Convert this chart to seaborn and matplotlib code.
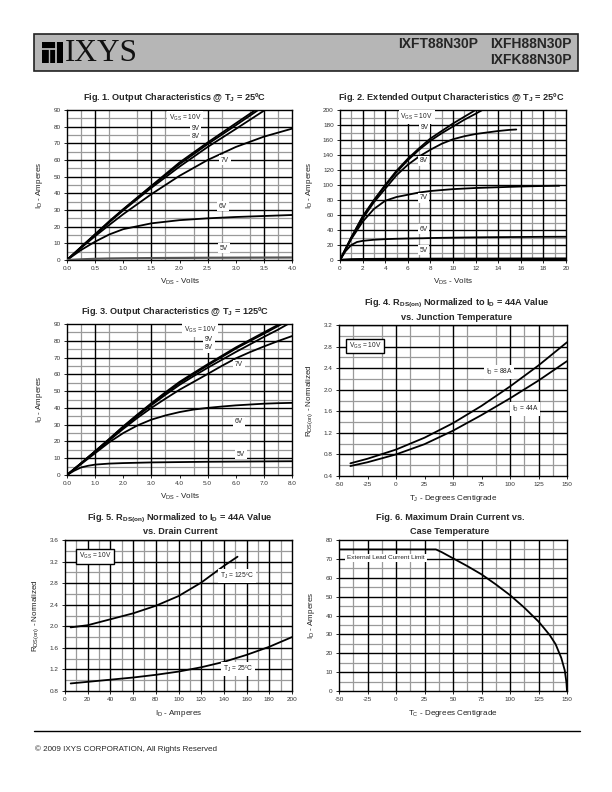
import numpy as np
import pandas as pd
import matplotlib
matplotlib.use("Agg")
import matplotlib.pyplot as plt
import seaborn as sns
from matplotlib.patches import Rectangle

# ---------------- data ----------------
# Fig 1: output characteristics @ 25C (VDS volts, ID amps)
f1_x_10 = [0, 0.25, 0.5, 0.75, 1.0, 1.5, 2.0, 2.5, 3.0, 3.35]
f1_y_10 = [0, 7.8, 15.5, 23.2, 30.5, 44.5, 58.5, 70.5, 82.0, 90.0]
f1_x_9 = [0, 0.25, 0.5, 0.75, 1.0, 1.5, 2.0, 2.5, 3.0, 3.4]
f1_y_9 = [0, 7.7, 15.3, 23.0, 30.3, 44.2, 57.5, 69.5, 80.8, 90.0]
f1_x_8 = [0, 0.25, 0.5, 0.75, 1.0, 1.5, 2.0, 2.5, 3.0, 3.52]
f1_y_8 = [0, 7.6, 15.1, 22.6, 29.8, 43.3, 56.0, 67.8, 78.6, 90.0]
f1_x = [0, 0.25, 0.5, 0.75, 1.0, 1.5, 2.0, 2.5, 3.0, 3.5, 4.0]
f1_y_7 = [0, 7.3, 14.3, 21.0, 27.5, 39.5, 50.5, 60.0, 67.8, 74.0, 78.8]
f1_y_6 = [0, 6.0, 11.0, 15.3, 18.5, 22.0, 23.9, 25.0, 25.8, 26.4, 27.0]
f1_y_5 = [0, 0.4, 0.7, 0.9, 1.0, 1.15, 1.25, 1.35, 1.4, 1.45, 1.5]
f1_labels = ["V$_{GS}$ = 10V", "9V", "8V", "7V", "6V", "5V"]
f1_lab_x = [2.1, 2.29, 2.29, 2.81, 2.77, 2.79]
f1_lab_y = [85.2, 78.6, 74.4, 60.0, 32.4, 7.2]

# Fig 2: extended output characteristics @ 25C
f2_x_10 = [0, 1, 2, 3, 4, 5, 6, 7, 8, 9, 10, 11, 12]
f2_y_10 = [0, 30, 58, 80, 100, 119, 135, 149, 162, 172, 182, 191, 200]
f2_x_9 = [0, 1, 2, 3, 4, 5, 6, 7, 8, 9, 10, 11, 12, 12.6]
f2_y_9 = [0, 30, 57.5, 79, 99, 117, 133, 147, 159, 169, 178, 187, 195, 200]
f2_x_8 = [0, 1, 2, 3, 4, 5, 6, 7, 8, 9, 10, 11, 12, 13, 14, 15, 15.6]
f2_y_8 = [0, 29, 55, 77, 95, 113, 127, 138, 147, 155, 161, 165, 168, 170, 172, 173.5, 174]
f2_x_7 = [0, 1, 2, 3, 4, 5, 6, 7, 8, 10, 12, 14, 16, 18, 19.4]
f2_y_7 = [0, 28, 51, 68, 79, 84, 87, 90, 92, 94.5, 96, 97, 98, 98.7, 99]
f2_x_6 = [0, 0.5, 1, 1.5, 2, 3, 4, 5, 6, 7.3, 8, 10, 12, 14, 16, 18, 20]
f2_y_6 = [0, 12, 20, 24, 25.5, 27, 27.8, 28.3, 28.7, 29, 29.3, 29.8, 30.2, 30.5, 30.7, 30.9, 31]
f2_x_5 = [0, 1, 2, 4, 8, 12, 16, 20]
f2_y_5 = [0, 0.8, 1.0, 1.2, 1.4, 1.5, 1.6, 1.7]
f2_labels = ["V$_{GS}$ = 10V", "9V", "8V", "7V", "6V", "5V"]
f2_lab_x = [6.8, 7.5, 7.4, 7.4, 7.4, 7.4]
f2_lab_y = [190.7, 177, 132, 83, 41, 13]

# Fig 3: output characteristics @ 125C
f3_x_10 = [0, 0.5, 1, 1.5, 2, 2.5, 3, 3.5, 4, 4.5, 5, 5.5, 6, 6.5, 7, 7.56]
f3_y_10 = [0, 7, 14.2, 21.5, 29, 36, 42.8, 49.3, 55.5, 60.8, 66, 71, 76, 80.5, 85, 90]
f3_x_9 = [0, 0.5, 1, 1.5, 2, 2.5, 3, 3.5, 4, 4.5, 5, 5.5, 6, 6.5, 7, 7.64]
f3_y_9 = [0, 7, 14.1, 21.3, 28.7, 35.6, 42.3, 48.7, 54.8, 60.1, 65.3, 70.3, 75.3, 79.8, 84.2, 90]
f3_x_8 = [0, 0.5, 1, 1.5, 2, 2.5, 3, 3.5, 4, 4.5, 5, 5.5, 6, 6.5, 7, 7.5, 7.86]
f3_y_8 = [0, 6.9, 14, 21, 28.3, 35.1, 41.6, 47.8, 53.7, 58.9, 63.9, 68.6, 73.3, 77.8, 82.3, 86.6, 90]
f3_x = [0, 0.5, 1, 1.5, 2, 2.5, 3, 3.5, 4, 4.5, 5, 5.5, 6, 6.5, 7, 7.5, 8]
f3_y_7 = [0, 6.8, 13.8, 20.6, 27.5, 34, 40, 45.5, 50.8, 55.5, 60.2, 65, 69.5, 73.2, 76.6, 79.8, 82.8]
f3_y_6 = [0, 6.5, 13, 19.5, 25, 29.5, 33, 35.5, 37.5, 39, 40, 40.8, 41.5, 42, 42.5, 42.8, 43]
f3_x_5 = [0, 0.25, 0.5, 0.75, 1, 1.5, 2, 3, 4, 5, 6, 7, 8]
f3_y_5 = [0, 2.5, 4.5, 5.5, 6.2, 6.8, 7.1, 7.5, 7.7, 7.9, 8.0, 8.1, 8.2]
f3_labels = ["V$_{GS}$ = 10V", "9V", "8V", "7V", "6V", "5V"]
f3_lab_x = [4.73, 5.05, 5.05, 6.12, 6.12, 6.19]
f3_lab_y = [86.4, 80.5, 75.7, 65.6, 31.6, 12.5]

# Fig 4: RDS(on) normalized vs junction temperature
f4_t = [-40, -25, 0, 25, 50, 75, 100, 125, 150]
f4_r_88 = [0.635, 0.72, 0.89, 1.11, 1.38, 1.70, 2.06, 2.45, 2.88]
f4_r_44 = [0.585, 0.655, 0.80, 0.99, 1.24, 1.53, 1.84, 2.17, 2.53]

# Fig 5: RDS(on) normalized vs drain current
f5_i_125 = [5, 20, 40, 60, 80, 100, 120, 140, 152]
f5_r_125 = [1.98, 2.02, 2.13, 2.24, 2.38, 2.56, 2.81, 3.12, 3.29]
f5_i_25 = [5, 20, 40, 60, 80, 100, 120, 140, 160, 180, 200]
f5_r_25 = [0.94, 0.97, 1.01, 1.05, 1.10, 1.16, 1.24, 1.34, 1.47, 1.62, 1.80]

# Fig 6: maximum drain current vs case temperature
f6_tc = [-50, 35, 40, 50, 62.5, 75, 87.5, 100, 112.5, 125, 130, 135, 140, 145, 148, 149.5, 150]
f6_id = [75, 75, 73.6, 70.3, 66.2, 61.8, 56.5, 50.8, 44.2, 36.8, 33.2, 29.5, 24.8, 17.5, 11, 4.5, 0]

# ---------------- style ----------------
sns.set_theme(style="white")
plt.rcParams["font.family"] = ["Liberation Sans", "DejaVu Sans"]
plt.rcParams["mathtext.default"] = "regular"

W, H = 612, 792
fig = plt.figure(figsize=(W / 100, H / 100), dpi=100)
fig.patch.set_facecolor("white")


def fx(px):
    return px / W


def fy(py):
    return 1 - py / H


def add_ax(l, t, r, b):
    return fig.add_axes([l / W, 1 - b / H, (r - l) / W, (b - t) / H])


GRAY = "#9a9a9a"


def style_ax(ax, xlim, ylim, xticks, yticks, xfmt, yfmt, xgray, xblack, ygray, yblack):
    ax.set_xlim(*xlim)
    ax.set_ylim(*ylim)
    ax.set_xticks(xticks)
    ax.set_yticks(yticks)
    ax.set_xticklabels([xfmt.format(v) for v in xticks])
    ax.set_yticklabels([yfmt.format(v) for v in yticks])
    ax.set_xticks(xgray, minor=True)
    ax.set_yticks(ygray, minor=True)
    ax.grid(False)
    ax.grid(which="minor", color=GRAY, lw=0.9)
    for v in xblack:
        ax.axvline(v, color="black", lw=1.0, zorder=1)
    for v in yblack:
        ax.axhline(v, color="black", lw=1.0, zorder=1)
    ax.tick_params(which="major", direction="out", length=2.5, width=0.6,
                   labelsize=4.6, labelcolor="#333333", pad=2, color="black",
                   bottom=True, left=True)
    ax.tick_params(which="minor", length=0)
    for s in ax.spines.values():
        s.set_color("black")
        s.set_linewidth(1.0)
    ax.set_facecolor("white")


def curve(ax, x, y, color="black", lw=1.3):
    sns.lineplot(x=x, y=y, ax=ax, color=color, lw=lw, zorder=3, sort=False)


def label(ax, x, y, s, size=4.8, box=False):
    if box:
        bb = dict(boxstyle="square,pad=0.35", fc="white", ec="black", lw=1.0)
    else:
        bb = dict(boxstyle="square,pad=0.25", fc="white", ec="none")
    ax.text(x, y, s, fontsize=size, ha="center", va="center", bbox=bb, zorder=5,
            color="#222222")


def title(xc, y1, lines):
    for i, ln in enumerate(lines):
        fig.text(fx(xc), fy(y1 + i * 14), ln, ha="center", va="center",
                 fontsize=6.6, fontweight="bold")


def axlabels(ax, xl, yl):
    ax.set_xlabel(xl, fontsize=5.8, labelpad=4, color="#222222")
    ax.set_ylabel(yl, fontsize=5.8, labelpad=6, color="#222222")


# ---------------- header / footer ----------------
fig.patches.append(Rectangle((fx(34), fy(71)), (578 - 34) / W, (71 - 34) / H,
                             transform=fig.transFigure, fc="#b6b6b6", ec="#222222", lw=1.2))
fig.patches.append(Rectangle((fx(42), fy(63)), 21 / W, 21 / H,
                             transform=fig.transFigure, fc="black", ec="none"))
fig.add_artist(plt.Line2D([fx(42), fx(56)], [fy(49), fy(49)], transform=fig.transFigure,
                          color="#b6b6b6", lw=1.3))
fig.add_artist(plt.Line2D([fx(56), fx(56)], [fy(42), fy(63)], transform=fig.transFigure,
                          color="#b6b6b6", lw=1.3))
fig.add_artist(plt.Line2D([fx(49), fx(49)], [fy(49), fy(63)], transform=fig.transFigure,
                          color="#b6b6b6", lw=1.0))
fig.text(fx(65), fy(53.5), "IXYS", fontsize=22.5, family=["Liberation Serif", "DejaVu Serif"],
         ha="left", va="center", color="#111111")
fig.text(fx(478), fy(44), "IXFT88N30P", fontsize=10, fontweight="bold", ha="right", va="center")
fig.text(fx(572), fy(44), "IXFH88N30P", fontsize=10, fontweight="bold", ha="right", va="center")
fig.text(fx(572), fy(60), "IXFK88N30P", fontsize=10, fontweight="bold", ha="right", va="center")

fig.add_artist(plt.Line2D([fx(34), fx(580)], [fy(731), fy(731)], transform=fig.transFigure,
                          color="black", lw=1.0))
fig.text(fx(35), fy(749), "© 2009 IXYS CORPORATION, All Rights Reserved", fontsize=5.8,
         ha="left", va="center")

# ---------------- Fig 1 ----------------
ax1 = add_ax(67, 110, 292, 260)
style_ax(ax1, (0, 4), (0, 90), np.arange(0, 4.01, 0.5), np.arange(0, 91, 10), "{:.1f}", "{:.0f}",
         np.arange(0.25, 4, 0.25), [0.5, 1.5, 2.5, 3.5], np.arange(5, 90, 10), np.arange(10, 90, 10))
curve(ax1, f1_x_10, f1_y_10)
curve(ax1, f1_x_9, f1_y_9)
curve(ax1, f1_x_8, f1_y_8)
curve(ax1, f1_x, f1_y_7)
curve(ax1, f1_x, f1_y_6)
curve(ax1, f1_x, f1_y_5, color="#555555", lw=1.6)
for s, x, y in zip(f1_labels, f1_lab_x, f1_lab_y):
    label(ax1, x, y, s)
axlabels(ax1, "V$_{DS}$ - Volts", "I$_D$ - Amperes")
title(174, 97, ["Fig. 1. Output Characteristics @ T$_J$ = 25ºC"])

# ---------------- Fig 2 ----------------
ax2 = add_ax(340, 110, 566, 260)
style_ax(ax2, (0, 20), (0, 200), np.arange(0, 21, 2), np.arange(0, 201, 20), "{:.0f}", "{:.0f}",
         np.arange(1, 20, 1), np.arange(2, 20, 2), np.arange(10, 200, 20), np.arange(20, 200, 20))
curve(ax2, f2_x_10, f2_y_10)
curve(ax2, f2_x_9, f2_y_9)
curve(ax2, f2_x_8, f2_y_8)
curve(ax2, f2_x_7, f2_y_7)
curve(ax2, f2_x_6, f2_y_6)
curve(ax2, f2_x_5, f2_y_5, lw=1.8)
for s, x, y in zip(f2_labels, f2_lab_x, f2_lab_y):
    label(ax2, x, y, s)
axlabels(ax2, "V$_{DS}$ - Volts", "I$_D$ - Amperes")
title(451, 97, ["Fig. 2. Extended Output Characteristics @ T$_J$ = 25ºC"])

# ---------------- Fig 3 ----------------
ax3 = add_ax(67, 324, 292, 475)
style_ax(ax3, (0, 8), (0, 90), np.arange(0, 8.01, 1), np.arange(0, 91, 10), "{:.1f}", "{:.0f}",
         np.arange(0.5, 8, 0.5), [1, 3, 5, 7], np.arange(5, 90, 10), np.arange(10, 90, 10))
curve(ax3, f3_x_10, f3_y_10)
curve(ax3, f3_x_9, f3_y_9)
curve(ax3, f3_x_8, f3_y_8)
curve(ax3, f3_x, f3_y_7)
curve(ax3, f3_x, f3_y_6)
curve(ax3, f3_x_5, f3_y_5)
for s, x, y in zip(f3_labels, f3_lab_x, f3_lab_y):
    label(ax3, x, y, s)
axlabels(ax3, "V$_{DS}$ - Volts", "I$_D$ - Amperes")
title(175, 312, ["Fig. 3. Output Characteristics @ T$_J$ = 125ºC"])

# ---------------- Fig 4 ----------------
ax4 = add_ax(339, 325, 567, 476)
style_ax(ax4, (-50, 150), (0.4, 3.2), np.arange(-50, 151, 25), np.arange(0.4, 3.21, 0.4),
         "{:.0f}", "{:.1f}", np.arange(-37.5, 150, 25), [0, 50, 100, 125],
         np.arange(0.6, 3.2, 0.4), np.arange(0.8, 3.2, 0.4))
curve(ax4, f4_t, f4_r_88)
curve(ax4, f4_t, f4_r_44)
label(ax4, 90.4, 2.33, "I$_D$ = 88A")
label(ax4, 113.2, 1.64, "I$_D$ = 44A")
label(ax4, -27.2, 2.81, "V$_{GS}$ = 10V", box=True)
axlabels(ax4, "T$_J$ - Degrees Centigrade", "R$_{DS(on)}$ - Normalized")
title(457, 303, ["Fig. 4. R$_{DS(on)}$ Normalized to I$_D$ = 44A Value",
                 "vs. Junction Temperature"])

# ---------------- Fig 5 ----------------
ax5 = add_ax(65, 540, 292, 691)
style_ax(ax5, (0, 200), (0.8, 3.6), np.arange(0, 201, 20), np.arange(0.8, 3.61, 0.4),
         "{:.0f}", "{:.1f}", np.arange(10, 200, 20), np.arange(20, 200, 20),
         np.arange(1.0, 3.6, 0.4), np.arange(1.2, 3.6, 0.4))
curve(ax5, f5_i_125, f5_r_125)
curve(ax5, f5_i_25, f5_r_25)
label(ax5, 151.5, 2.93, "T$_J$ = 125ºC")
label(ax5, 152.4, 1.21, "T$_J$ = 25ºC")
label(ax5, 26.4, 3.30, "V$_{GS}$ = 10V", box=True)
axlabels(ax5, "I$_D$ - Amperes", "R$_{DS(on)}$ - Normalized")
title(180, 518, ["Fig. 5. R$_{DS(on)}$ Normalized to I$_D$ = 44A Value",
                 "vs. Drain Current"])

# ---------------- Fig 6 ----------------
ax6 = add_ax(339, 540, 567, 691)
style_ax(ax6, (-50, 150), (0, 80), np.arange(-50, 151, 25), np.arange(0, 81, 10),
         "{:.0f}", "{:.0f}", np.arange(-37.5, 150, 25), np.arange(-25, 150, 25),
         np.arange(5, 80, 10), np.arange(10, 80, 10))
curve(ax6, f6_tc, f6_id)
ax6.text(-43, 70.5, "External Lead Current Limit", fontsize=4.6, ha="left", va="center",
         color="#222222", zorder=5,
         bbox=dict(boxstyle="square,pad=0.3", fc="white", ec="none"))
axlabels(ax6, "T$_C$ - Degrees Centigrade", "I$_D$ - Amperes")
title(450, 518, ["Fig. 6. Maximum Drain Current vs.", "Case Temperature"])

fig.savefig("out.png", dpi=100)
